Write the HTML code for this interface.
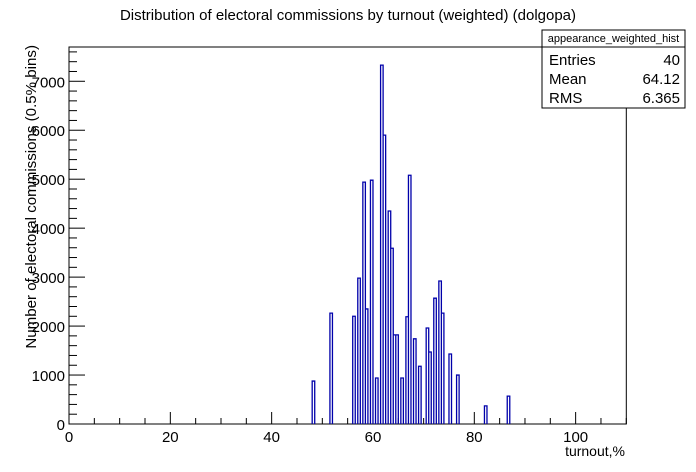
<!DOCTYPE html>
<html><head><meta charset="utf-8"><style>
body{margin:0;background:#fff;}
svg{display:block;font-family:"Liberation Sans",sans-serif;}
</style></head><body>
<svg id="c" width="696" height="472" viewBox="0 0 696 472">
<text x="348" y="20" font-size="15" text-anchor="middle">Distribution of electoral commissions by turnout (weighted) (dolgopa)</text>
<rect x="69" y="47" width="557.3" height="377" fill="none" stroke="#000" stroke-width="1"/>
<g id="ticks"></g>
<path id="hist" fill="none" stroke="#0000aa" stroke-width="1.3"/>
<text x="625" y="456" font-size="14" text-anchor="end">turnout,%</text>
<text transform="translate(36,45) rotate(-90)" font-size="15.1" text-anchor="end">Number of electoral commissions (0.5% bins)</text>
<g>
<rect x="542" y="30" width="143" height="78" fill="#fff" stroke="#000"/>
<line x1="542" y1="47" x2="685" y2="47" stroke="#000"/>
<text x="613.5" y="42" font-size="11" text-anchor="middle">appearance_weighted_hist</text>
<text x="549" y="65" font-size="15">Entries</text><text x="680" y="65" font-size="15" text-anchor="end">40</text>
<text x="549" y="84" font-size="15">Mean</text><text x="680" y="84" font-size="15" text-anchor="end">64.12</text>
<text x="549" y="103" font-size="15">RMS</text><text x="680" y="103" font-size="15" text-anchor="end">6.365</text>
</g>
</svg>
<script>
const binStarts=[48,51.5,56,57,58,58.5,59.5,60.5,61.5,62,63,63.5,64,64.5,65.5,66.5,67,68,69,70.5,71,72,73,73.5,75,76.5,82,86.5];
const binValues=[877,2265,2200,2980,4940,2350,4980,940,7330,5900,4350,3590,1820,1820,940,2190,5080,1740,1180,1960,1470,2570,2920,2265,1430,1000,370,570];
const xTicks=[0,20,40,60,80,100];
const yTicks=[0,1000,2000,3000,4000,5000,6000,7000];
const binWidth=0.5;
const X=v=>69+v*(557.3/110);
const Y=v=>424-v*(377/7700);
const NS="http://www.w3.org/2000/svg";
const g=document.getElementById('ticks');
function line(x1,y1,x2,y2){const l=document.createElementNS(NS,'line');l.setAttribute('x1',x1);l.setAttribute('y1',y1);l.setAttribute('x2',x2);l.setAttribute('y2',y2);l.setAttribute('stroke','#000');


g.appendChild(l);}
function txt(x,y,s,anchor){const t=document.createElementNS(NS,'text');t.setAttribute('x',x);t.setAttribute('y',y);t.setAttribute('font-size','15');t.setAttribute('text-anchor',anchor);t.textContent=s;


g.appendChild(t);}
for(let v=0;v<=110;v+=5){const major=v%20===0;line(X(v),424,X(v),424-(major?12:6));}
xTicks.forEach(v=>txt(X(v),442,String(v),'middle'));
for(let v=0;v<=7600;v+=200){const major=v%1000===0;line(69,Y(v),69+(major?16:8),Y(v));}
yTicks.forEach(v=>txt(65,Y(v)+6,String(v),'end'));
let d='';
binStarts.forEach((b,i)=>{const x0=X(b),x1=X(b+binWidth),y=Y(binValues[i]);d+=`M${x0},424V${y}H${x1}V424`;});
document.getElementById('hist').setAttribute('d',d);
</script>
</body></html>
